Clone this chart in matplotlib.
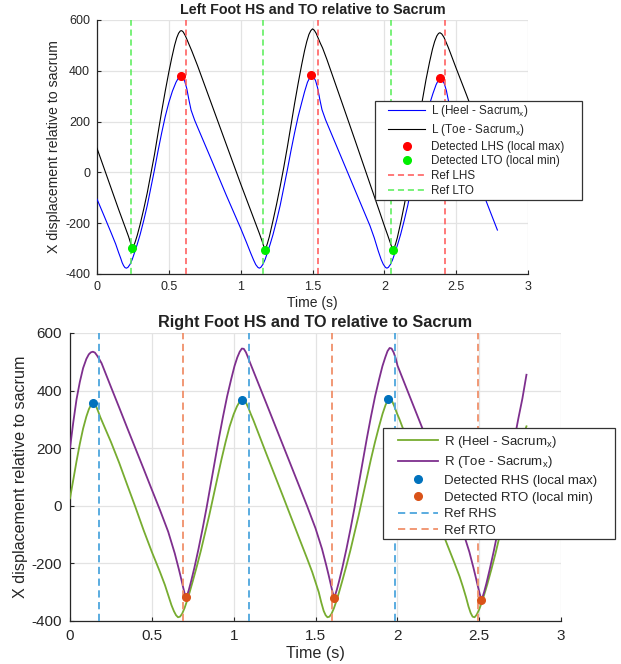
import matplotlib
matplotlib.use("Agg")
import matplotlib.pyplot as plt
from matplotlib.patches import Rectangle

plt.rcParams['font.family'] = ['Liberation Sans', 'DejaVu Sans']
plt.rcParams['mathtext.fontset'] = 'custom'
plt.rcParams['mathtext.rm'] = 'Liberation Sans'
plt.rcParams['mathtext.it'] = 'Liberation Sans:italic'
plt.rcParams['axes.unicode_minus'] = False

# ---------------- Left foot data ----------------
l_heel_t = [0.0, 0.05, 0.1, 0.13, 0.15, 0.165, 0.175, 0.185, 0.195, 0.205, 0.215, 0.23, 0.245, 0.26, 0.28,
            0.3, 0.325, 0.35, 0.375, 0.4, 0.425, 0.45, 0.475, 0.5, 0.525, 0.55, 0.565, 0.582, 0.595, 0.61,
            0.625, 0.64, 0.655, 0.68, 0.7, 0.8, 0.9, 1.0, 1.04, 1.07, 1.09, 1.105, 1.12, 1.13, 1.14, 1.155,
            1.17, 1.185, 1.205, 1.225, 1.25, 1.275, 1.3, 1.325, 1.35, 1.375, 1.4, 1.425, 1.445, 1.465, 1.48,
            1.493, 1.506, 1.521, 1.536, 1.551, 1.566, 1.591, 1.611, 1.7, 1.8, 1.9, 1.93, 1.958, 1.978,
            1.993, 2.008, 2.018, 2.028, 2.043, 2.058, 2.073, 2.093, 2.113, 2.138, 2.163, 2.188, 2.213,
            2.238, 2.263, 2.288, 2.313, 2.338, 2.36, 2.375, 2.389, 2.402, 2.417, 2.432, 2.447, 2.462,
            2.487, 2.507, 2.6, 2.71, 2.787]
l_heel_v = [-105, -172, -240, -282, -315, -338, -355, -367, -375, -377, -374, -362, -343, -318, -283,
            -245, -190, -130, -60, 10, 85, 155, 220, 275, 320, 355, 370, 377, 374, 360,
            330, 285, 245, 205, 178, 45, -90, -220, -275, -318, -345, -363, -374, -377, -374, -362,
            -343, -318, -283, -245, -190, -130, -60, 10, 85, 155, 220, 275, 318, 355, 372,
            380, 376, 362, 332, 287, 247, 207, 180, 60, -75, -210, -258, -310, -343,
            -362, -374, -377, -374, -362, -343, -318, -283, -245, -190, -130, -60, 10,
            85, 155, 215, 265, 310, 345, 362, 368, 365, 350, 322, 280, 242,
            205, 178, 44, -115, -227]

l_toe_t = [0.0, 0.05, 0.1, 0.15, 0.2, 0.22, 0.232, 0.24, 0.246, 0.254, 0.265, 0.28, 0.3, 0.325, 0.35,
           0.375, 0.4, 0.425, 0.45, 0.475, 0.5, 0.52, 0.54, 0.555, 0.568, 0.58, 0.59, 0.6, 0.615, 0.63,
           0.645, 0.66, 0.7, 0.8, 0.9, 1.0, 1.1, 1.13, 1.15, 1.16, 1.168, 1.176, 1.186, 1.2, 1.225, 1.25,
           1.275, 1.3, 1.325, 1.35, 1.375, 1.4, 1.425, 1.445, 1.46, 1.475, 1.488, 1.5, 1.512, 1.525, 1.54,
           1.555, 1.57, 1.6, 1.7, 1.8, 1.9, 1.97, 2.0, 2.025, 2.042, 2.052, 2.06, 2.068, 2.078, 2.09,
           2.115, 2.14, 2.165, 2.19, 2.215, 2.24, 2.265, 2.29, 2.315, 2.335, 2.35, 2.365, 2.377, 2.387,
           2.4, 2.415, 2.43, 2.445, 2.46, 2.5, 2.572, 2.7, 2.787]
l_toe_v = [95, 15, -65, -145, -222, -253, -275, -290, -298, -292, -275, -248, -205, -145, -80,
           -5, 70, 155, 240, 320, 395, 450, 500, 530, 548, 557, 558, 553, 538, 518,
           498, 478, 420, 265, 110, -45, -195, -240, -272, -290, -303, -297, -280, -252, -190, -125,
           -55, 20, 100, 185, 270, 350, 425, 480, 515, 543, 558, 565, 560, 548, 528,
           508, 490, 445, 283, 120, -45, -160, -210, -250, -278, -295, -304, -298, -282, -258,
           -195, -125, -50, 30, 115, 200, 285, 365, 435, 485, 515, 537, 547, 550,
           545, 532, 512, 492, 470, 410, 305, 112, -20]

lhs_t = [0.582, 1.493, 2.389]
lhs_v = [381, 383, 371]
lto_t = [0.246, 1.169, 2.06]
lto_v = [-299, -305, -305]
ref_lhs = [0.622, 1.535, 2.424]
ref_lto = [0.237, 1.155, 2.044]

# ---------------- Right foot data ----------------
r_heel_t = [0.0, 0.02, 0.04, 0.06, 0.08, 0.1, 0.115, 0.128, 0.14, 0.15, 0.16, 0.172, 0.185, 0.2, 0.25,
            0.3, 0.35, 0.4, 0.45, 0.5, 0.55, 0.58, 0.6, 0.62, 0.635, 0.648, 0.66, 0.672, 0.685, 0.7,
            0.715, 0.73, 0.75, 0.775, 0.8, 0.825, 0.85, 0.875, 0.9, 0.925, 0.95, 0.975, 1.0, 1.02, 1.037,
            1.053, 1.065, 1.077, 1.09, 1.105, 1.12, 1.2, 1.3, 1.4, 1.45, 1.48, 1.5, 1.52, 1.535, 1.55,
            1.562, 1.573, 1.585, 1.598, 1.613, 1.628, 1.643, 1.663, 1.688, 1.713, 1.738, 1.763, 1.788,
            1.813, 1.838, 1.863, 1.888, 1.91, 1.928, 1.945, 1.957, 1.969, 1.982, 1.997, 2.012, 2.1, 2.2,
            2.3, 2.35, 2.38, 2.4, 2.42, 2.435, 2.448, 2.46, 2.472, 2.485, 2.5, 2.515, 2.53, 2.55, 2.575,
            2.6, 2.625, 2.65, 2.675, 2.7, 2.725, 2.75, 2.775, 2.789]
r_heel_v = [26, 90, 155, 215, 268, 310, 335, 350, 356, 354, 345, 328, 308, 288, 222,
            150, 72, -5, -85, -160, -230, -275, -310, -345, -366, -380, -387, -385, -375, -355,
            -330, -302, -262, -210, -155, -95, -35, 30, 95, 160, 220, 275, 318, 345, 362,
            368, 366, 356, 340, 318, 298, 180, 35, -112, -185, -230, -265, -300, -335, -365,
            -380, -387, -385, -375, -355, -330, -302, -262, -210, -155, -95, -35, 30,
            95, 160, 220, 275, 320, 350, 370, 371, 362, 345, 322, 302, 170, 20,
            -128, -200, -245, -280, -318, -350, -372, -385, -387, -378, -360, -337, -310, -272, -220,
            -165, -105, -45, 20, 85, 150, 210, 255, 276]

r_toe_t = [0.0, 0.02, 0.04, 0.06, 0.08, 0.1, 0.115, 0.128, 0.14, 0.152, 0.165, 0.18, 0.193, 0.25, 0.3,
           0.35, 0.4, 0.45, 0.5, 0.55, 0.6, 0.64, 0.665, 0.68, 0.692, 0.7, 0.708, 0.716, 0.726, 0.74,
           0.76, 0.785, 0.81, 0.835, 0.86, 0.885, 0.91, 0.935, 0.96, 0.985, 1.005, 1.022, 1.037, 1.05,
           1.062, 1.075, 1.088, 1.1, 1.2, 1.3, 1.4, 1.45, 1.5, 1.54, 1.565, 1.58, 1.593, 1.603, 1.612,
           1.62, 1.63, 1.644, 1.664, 1.689, 1.714, 1.739, 1.764, 1.789, 1.814, 1.839, 1.864, 1.889,
           1.909, 1.926, 1.94, 1.953, 1.965, 1.978, 1.99, 2.001, 2.1, 2.2, 2.3, 2.35, 2.4, 2.44, 2.465,
           2.48, 2.493, 2.503, 2.512, 2.52, 2.53, 2.544, 2.564, 2.589, 2.614, 2.639, 2.664, 2.689,
           2.714, 2.739, 2.764, 2.789]
r_toe_v = [200, 290, 370, 430, 478, 510, 526, 533, 535, 532, 522, 508, 495, 413, 342,
           270, 199, 128, 56, -15, -90, -165, -220, -255, -285, -303, -315, -310, -292, -262,
           -215, -150, -80, -5, 75, 155, 235, 310, 380, 440, 485, 515, 535, 546,
           545, 533, 515, 497, 355, 212, 69, -3, -78, -150, -205, -240, -272, -297, -315,
           -310, -292, -262, -215, -150, -80, -5, 75, 155, 235, 310, 380, 440,
           485, 515, 537, 548, 546, 532, 512, 487, 345, 202, 59, -13, -88, -160, -215,
           -250, -282, -305, -322, -318, -300, -270, -222, -158, -88, -13, 67, 147,
           227, 302, 372, 455]

rhs_t = [0.138, 1.053, 1.945]
rhs_v = [356, 368, 371]
rto_t = [0.709, 1.613, 2.512]
rto_v = [-317, -321, -327]
ref_rhs = [0.175, 1.091, 1.987]
ref_rto = [0.689, 1.599, 2.492]

xticks = [0, 0.5, 1, 1.5, 2, 2.5, 3]
xtick_labels = ['0', '0.5', '1', '1.5', '2', '2.5', '3']
yticks = [-400, -200, 0, 200, 400, 600]

W, H = 621, 664
fig = plt.figure(figsize=(W / 100, H / 100), dpi=100)

AX_COL = '#262626'
GRID_COL = '#e3e3e3'


def style_axes(ax, fs, pad):
    ax.set_xlim(0, 3)
    ax.set_ylim(-400, 600)
    ax.set_xticks(xticks)
    ax.set_xticklabels(xtick_labels)
    ax.set_yticks(yticks)
    ax.grid(True, color=GRID_COL, linewidth=0.9)
    ax.set_axisbelow(True)
    for s in ['top', 'right']:
        ax.spines[s].set_visible(False)
    for s in ['left', 'bottom']:
        ax.spines[s].set_color(AX_COL)
        ax.spines[s].set_linewidth(0.9)
    ax.tick_params(direction='in', length=3, width=0.8, colors=AX_COL, labelsize=fs,
                   labelcolor=AX_COL, pad=pad)


def boxed_legend(ax, anchor_px, box_px, fs, hl, ls):
    x0, y0, x1, y1 = box_px
    rect = Rectangle((x0 / W, 1 - y1 / H), (x1 - x0) / W, (y1 - y0) / H, transform=fig.transFigure,
                     facecolor='white', edgecolor='#333333', linewidth=0.9, clip_on=False, zorder=8)
    ax.add_patch(rect)
    leg = ax.legend(loc='upper left', bbox_to_anchor=(anchor_px[0] / W, 1 - anchor_px[1] / H),
                    bbox_transform=fig.transFigure, fontsize=fs, frameon=False,
                    handlelength=hl, handletextpad=0.45, labelspacing=ls, borderpad=0,
                    borderaxespad=0, numpoints=1)
    leg.set_zorder(9)
    for t in leg.get_texts():
        t.set_color(AX_COL)
    return leg


# ---------------- Top axes ----------------
ax1 = fig.add_axes([97 / W, 1 - 274 / H, 431 / W, 254 / H])
style_axes(ax1, 9, 5)
ax1.plot(l_heel_t, l_heel_v, color='#0000ff', lw=0.8, label='L (Heel - Sacrum$_{\\mathrm{x}}$)', zorder=3)
ax1.plot(l_toe_t, l_toe_v, color='black', lw=0.8, label='L (Toe - Sacrum$_{\\mathrm{x}}$)', zorder=3)
ax1.plot(lhs_t, lhs_v, 'o', color='#ff0000', ms=5.5, label='Detected LHS (local max)', zorder=5)
ax1.plot(lto_t, lto_v, 'o', color='#00ee00', ms=5.5, label='Detected LTO (local min)', zorder=5)
for i, x in enumerate(ref_lhs):
    ax1.axvline(x, color='#ff5555', lw=1.1, ls=(0, (4, 2.5)), label='Ref LHS' if i == 0 else None, zorder=4)
for i, x in enumerate(ref_lto):
    ax1.axvline(x, color='#55ee55', lw=1.1, ls=(0, (4, 2.5)), label='Ref LTO' if i == 0 else None, zorder=4)
ax1.set_title('Left Foot HS and TO relative to Sacrum', fontsize=10.3, fontweight='bold', color='#222222', pad=4)
ax1.set_xlabel('Time (s)', fontsize=10, color=AX_COL, labelpad=2)
ax1.set_ylabel('X displacement relative to sacrum', fontsize=10.2, color=AX_COL, labelpad=3)
boxed_legend(ax1, (388, 103), (375, 101, 582, 200), 8.4, 3.2, 0.24)

# ---------------- Bottom axes ----------------
ax2 = fig.add_axes([70 / W, 1 - 621 / H, 491 / W, 288 / H])
style_axes(ax2, 11, 6)
ax2.plot(r_heel_t, r_heel_v, color='#77ac30', lw=1.3, label='R (Heel - Sacrum$_{\\mathrm{x}}$)', zorder=3)
ax2.plot(r_toe_t, r_toe_v, color='#7e2f8e', lw=1.3, label='R (Toe - Sacrum$_{\\mathrm{x}}$)', zorder=3)
ax2.plot(rhs_t, rhs_v, 'o', color='#0072bd', ms=5.5, label='Detected RHS (local max)', zorder=5)
ax2.plot(rto_t, rto_v, 'o', color='#d95319', ms=5.5, label='Detected RTO (local min)', zorder=5)
for i, x in enumerate(ref_rhs):
    ax2.axvline(x, color='#4da6dd', lw=1.3, ls=(0, (4, 2.5)), label='Ref RHS' if i == 0 else None, zorder=4)
for i, x in enumerate(ref_rto):
    ax2.axvline(x, color='#f0906a', lw=1.3, ls=(0, (4, 2.5)), label='Ref RTO' if i == 0 else None, zorder=4)
ax2.set_title('Right Foot HS and TO relative to Sacrum', fontsize=11.7, fontweight='bold', color='#222222', pad=4)
ax2.set_xlabel('Time (s)', fontsize=11.6, color=AX_COL, labelpad=2)
ax2.set_ylabel('X displacement relative to sacrum', fontsize=11.6, color=AX_COL, labelpad=2)
boxed_legend(ax2, (398, 434), (383, 428, 615, 539), 9.5, 3.0, 0.33)

fig.savefig('out.png', dpi=100)
